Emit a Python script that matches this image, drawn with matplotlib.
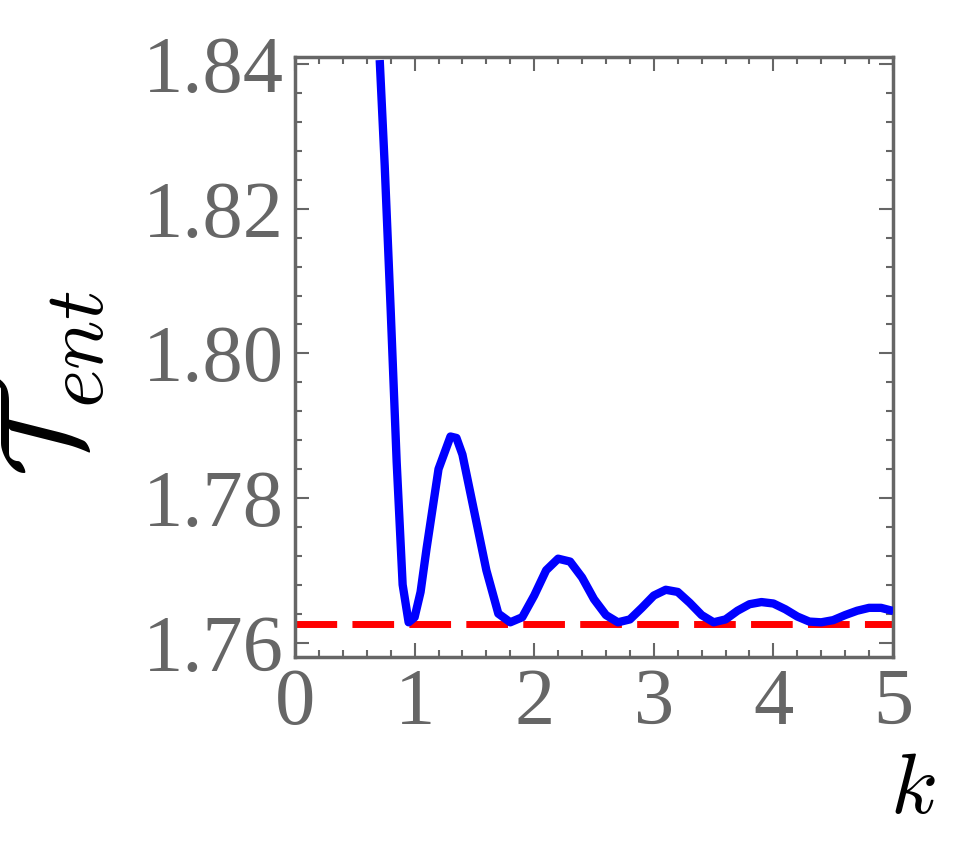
import matplotlib
matplotlib.use("Agg")
import matplotlib.pyplot as plt
from matplotlib.ticker import MultipleLocator

plt.rcParams['font.family'] = ['Liberation Serif', 'DejaVu Serif']
plt.rcParams['mathtext.fontset'] = 'cm'

# curve
k = [0.71, 0.75, 0.8, 0.85, 0.9, 0.95, 1.0, 1.05, 1.1, 1.2, 1.3, 1.35, 1.4, 1.5, 1.6, 1.7,
     1.8, 1.9, 2.0, 2.1, 2.2, 2.3, 2.4, 2.5, 2.6, 2.7, 2.8, 2.9, 3.0, 3.1, 3.2, 3.3, 3.4,
     3.5, 3.6, 3.7, 3.8, 3.9, 4.0, 4.1, 4.2, 4.3, 4.4, 4.5, 4.6, 4.7, 4.8, 4.9, 4.97]
t_ent = [1.840, 1.826, 1.806, 1.785, 1.768, 1.7628, 1.7635, 1.767, 1.773, 1.784, 1.7885,
         1.7883, 1.786, 1.778, 1.770, 1.764, 1.7628, 1.7635, 1.7665, 1.7700, 1.7716, 1.7712,
         1.7690, 1.7660, 1.7638, 1.7628, 1.7632, 1.7648, 1.7665, 1.7673, 1.7670, 1.7655,
         1.7638, 1.7628, 1.7632, 1.7644, 1.7653, 1.7656, 1.7654, 1.7646, 1.7636, 1.7629,
         1.7628, 1.7631, 1.7638, 1.7644, 1.7648, 1.7648, 1.7645]
t_limit = 1.7625
xticks = [0, 1, 2, 3, 4, 5]
yticks = [1.76, 1.78, 1.80, 1.82, 1.84]

gray = '#666666'
fig = plt.figure(figsize=(9.71, 8.52), dpi=100)
ax = fig.add_axes([295/971, 1-657/852, 598/971, 600/852])

ax.axhline(t_limit, color='red', lw=5, ls=(0, (6, 2.2)), zorder=2)
ax.plot(k, t_ent, color='blue', lw=6, zorder=3, solid_joinstyle='round')

ax.set_xlim(0, 5)
ax.set_ylim(1.758, 1.841)
ax.set_xticks(xticks)
ax.set_xticklabels([str(v) for v in xticks])
ax.set_yticks(yticks)
ax.set_yticklabels([f"{v:.2f}" for v in yticks])
ax.xaxis.set_minor_locator(MultipleLocator(0.2))
ax.yaxis.set_minor_locator(MultipleLocator(0.004))
ax.tick_params(which='both', direction='in', top=True, right=True, colors=gray,
               labelsize=58, labelcolor=gray, width=1.5)
ax.tick_params(which='major', length=10, pad=8)
ax.tick_params(which='minor', length=5)
for s in ax.spines.values():
    s.set_color(gray)
    s.set_linewidth(2.5)

fig.text(0.055, 0.55, r'$\mathcal{T}_{ent}$', fontsize=85, rotation=90,
         ha='center', va='center', color='black')
fig.text(0.94, 0.07, r'$k$', fontsize=62, ha='center', va='center', color='black')

fig.savefig('out.png', dpi=100)
